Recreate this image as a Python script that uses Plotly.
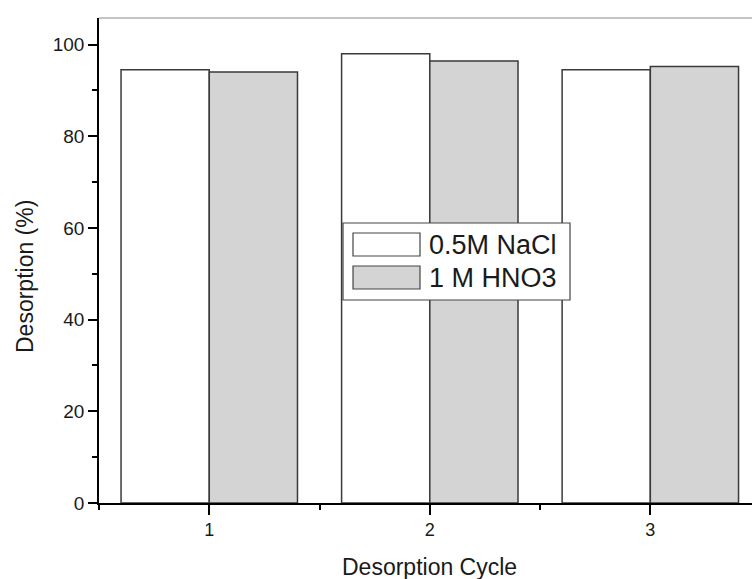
import plotly.graph_objects as go

# ---- data ----
cycles = [1, 2, 3]
series_names = ["0.5M NaCl", "1 M HNO3"]
nacl_values = [94.5, 98.0, 94.5]
hno3_values = [94.0, 96.4, 95.2]
y_ticks = [0, 20, 40, 60, 80, 100]
x_ticks = [1, 2, 3]
x_title = "Desorption Cycle"
y_title = "Desorption (%)"

FONT = "Liberation Sans, Arial, Helvetica, sans-serif"
TXT = "#1a1a1a"
EDGE = "#3a3a3a"
GRAY = "#d4d4d4"

W, H = 752, 579
L, R, T, B = 99, 0, 18, 76
PW, PH = W - L - R, H - T - B


def px(xp):
    return (xp - L) / PW


def py(yp):
    return (H - B - yp) / PH


fig = go.Figure()
fig.add_trace(go.Bar(x=cycles, y=nacl_values, name=series_names[0], width=0.4, offset=-0.4,
                     marker=dict(color="white", line=dict(color=EDGE, width=1.5)), showlegend=False))
fig.add_trace(go.Bar(x=cycles, y=hno3_values, name=series_names[1], width=0.4, offset=0.0,
                     marker=dict(color=GRAY, line=dict(color=EDGE, width=1.5)), showlegend=False))

# custom legend (box + swatches + labels) in paper coordinates
shapes = [
    dict(type="rect", xref="paper", yref="paper", x0=px(343), x1=px(570), y0=py(300), y1=py(223),
         line=dict(color="#444", width=1.2), fillcolor="white", layer="above"),
    dict(type="rect", xref="paper", yref="paper", x0=px(353), x1=px(420), y0=py(256), y1=py(233),
         line=dict(color="#444", width=1.2), fillcolor="white", layer="above"),
    dict(type="rect", xref="paper", yref="paper", x0=px(353), x1=px(420), y0=py(289), y1=py(266),
         line=dict(color="#444", width=1.2), fillcolor=GRAY, layer="above"),
    # top frame line
    dict(type="line", xref="paper", yref="paper", x0=0, x1=1, y0=1, y1=1,
         line=dict(color="#8a8a8a", width=1)),
]

annotations = [
    dict(xref="paper", yref="paper", x=px(427), y=py(245), text=series_names[0], showarrow=False,
         xanchor="left", yanchor="middle", font=dict(family=FONT, size=27, color=TXT)),
    dict(xref="paper", yref="paper", x=px(427), y=py(278), text=series_names[1], showarrow=False,
         xanchor="left", yanchor="middle", font=dict(family=FONT, size=27, color=TXT)),
    dict(xref="x", yref="paper", x=2, y=py(567), text=x_title, showarrow=False,
         xanchor="center", yanchor="middle", font=dict(family=FONT, size=23, color=TXT)),
    dict(xref="paper", yref="paper", x=px(25), y=py(277), text=y_title, showarrow=False, textangle=-90,
         xanchor="center", yanchor="middle", font=dict(family=FONT, size=23, color=TXT)),
]

fig.update_layout(
    width=W, height=H,
    margin=dict(l=L, r=R, t=T, b=B, pad=0),
    paper_bgcolor="white", plot_bgcolor="white",
    barmode="overlay",
    font=dict(family=FONT, size=19, color=TXT),
    shapes=shapes,
    annotations=annotations,
    showlegend=False,
)
fig.update_xaxes(
    range=[0.5, 3.461], tickmode="array", tickvals=x_ticks, ticktext=[str(v) for v in x_ticks],
    showline=True, linecolor="black", linewidth=1.5, ticks="outside", ticklen=10, tickwidth=1.5,
    tickcolor="black", showgrid=False, zeroline=False, tickfont=dict(size=18),
    minor=dict(tickmode="array", tickvals=[0.5, 1.5, 2.5, 3.5], ticks="outside", ticklen=5,
               tickwidth=1.5, tickcolor="black"),
)
fig.update_yaxes(
    range=[0, 105.8], tickmode="array", tickvals=y_ticks, ticktext=[str(v) for v in y_ticks],
    showline=True, linecolor="black", linewidth=1.5, ticks="outside", ticklen=9, tickwidth=1.5,
    tickcolor="black", showgrid=False, zeroline=False, tickfont=dict(size=19),
    minor=dict(tickmode="array", tickvals=[10, 30, 50, 70, 90], ticks="outside", ticklen=5,
               tickwidth=1.5, tickcolor="black"),
)

fig.write_html("out.html", config={"displayModeBar": False},
               post_script="document.body.style.margin='0px';document.body.style.overflow='hidden';")
